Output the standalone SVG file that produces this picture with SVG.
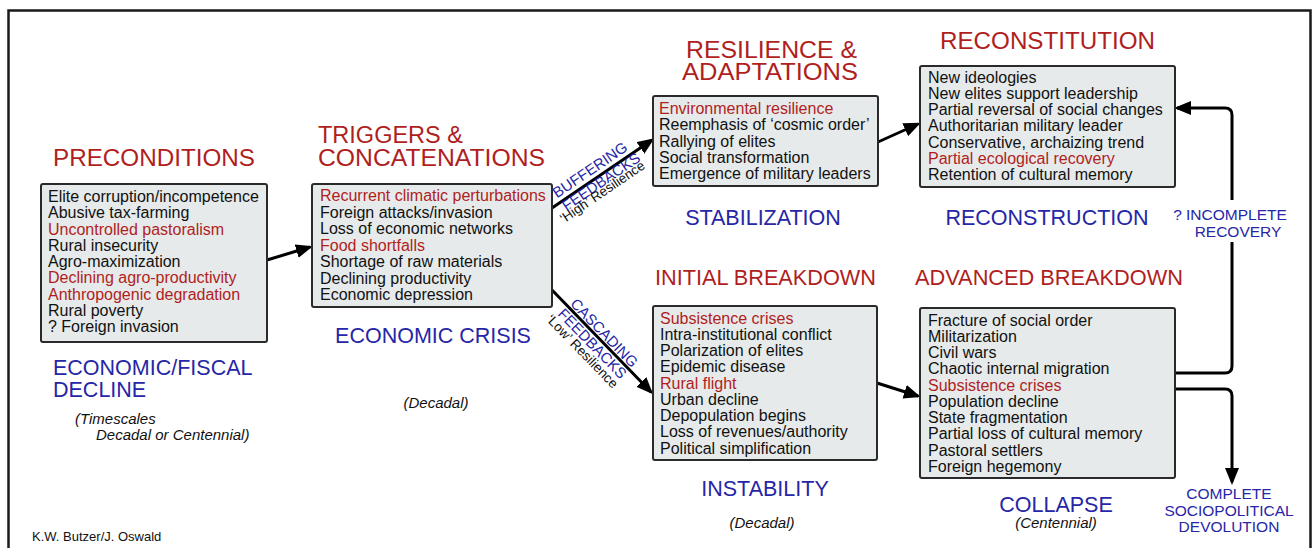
<svg xmlns="http://www.w3.org/2000/svg" width="1314" height="548" viewBox="0 0 1314 548">
<defs>
<marker id="ah" markerUnits="userSpaceOnUse" markerWidth="18" markerHeight="16" refX="14" refY="7" orient="auto">
<path d="M0,0 L17,7 L0,14 z" fill="#000"/>
</marker>
<style>
.box{fill:#e6eaea;stroke:#2a2a2a;stroke-width:2}
.bt{font-family:"Liberation Sans",Arial,sans-serif;font-size:16px;fill:#111}
.r{fill:#b01e1e}
.hd{font-family:"Liberation Sans",Arial,sans-serif;font-size:23.5px;fill:#b01e1e}
.hs{font-family:"Liberation Sans",Arial,sans-serif;font-size:21.5px;fill:#b01e1e}
.bl{font-family:"Liberation Sans",Arial,sans-serif;font-size:21.5px;fill:#2626a6}
.it{font-family:"Liberation Sans",Arial,sans-serif;font-size:15px;font-style:italic;fill:#111}
.sb{font-family:"Liberation Sans",Arial,sans-serif;font-size:15.5px;fill:#2626a6}
.rot{font-family:"Liberation Sans",Arial,sans-serif;font-size:15px;fill:#2626a6}
.rs{font-family:"Liberation Sans",Arial,sans-serif;font-size:13.5px;fill:#111}
.cn{fill:none;stroke:#000;stroke-width:3}
</style>
</defs>
<rect width="1314" height="548" fill="#fff"/>
<path d="M8.5,548 V10.5 H1310.5 V548" fill="none" stroke="#1a1a1a" stroke-width="2.5"/>

<g id="connectors">
<line class="cn" x1="267" y1="260" x2="310" y2="247" marker-end="url(#ah)"/>
<line class="cn" x1="552" y1="208" x2="652" y2="140" marker-end="url(#ah)"/>
<line class="cn" x1="552" y1="290" x2="651" y2="392" marker-end="url(#ah)"/>
<line class="cn" x1="878" y1="142" x2="918" y2="124" marker-end="url(#ah)"/>
<line class="cn" x1="877" y1="383" x2="918" y2="396" marker-end="url(#ah)"/>
<path class="cn" d="M1175,373 H1225 Q1232,373 1232,366 V242 M1232,200 V115 Q1232,108 1225,108 H1177" marker-end="url(#ah)"/>
<path class="cn" d="M1175,389 H1225 Q1232,389 1232,396 V482" marker-end="url(#ah)"/>
</g>

<g id="preconditions">
<text class="hd" x="53" y="165.5" textLength="202" lengthAdjust="spacingAndGlyphs">PRECONDITIONS</text>
<rect class="box" x="41" y="184" width="226" height="158" rx="2"/>
<text class="bt" x="48" y="202">Elite corruption/incompetence</text>
<text class="bt" x="48" y="218.25">Abusive tax-farming</text>
<text class="bt r" x="48" y="234.5">Uncontrolled pastoralism</text>
<text class="bt" x="48" y="250.75">Rural insecurity</text>
<text class="bt" x="48" y="267">Agro-maximization</text>
<text class="bt r" x="48" y="283.25">Declining agro-productivity</text>
<text class="bt r" x="48" y="299.5">Anthropogenic degradation</text>
<text class="bt" x="48" y="315.75">Rural poverty</text>
<text class="bt" x="48" y="332">? Foreign invasion</text>
<text class="bl" x="53" y="374.5">ECONOMIC/FISCAL</text>
<text class="bl" x="53" y="396.5">DECLINE</text>
<text class="it" x="75" y="424">(Timescales</text>
<text class="it" x="96" y="440">Decadal or Centennial)</text>
</g>

<g id="triggers">
<text class="hd" x="318" y="142.5">TRIGGERS &amp;</text>
<text class="hd" x="318" y="165.5" textLength="227" lengthAdjust="spacingAndGlyphs">CONCATENATIONS</text>
<rect class="box" x="312" y="184" width="240" height="123" rx="2"/>
<text class="bt r" x="320" y="201">Recurrent climatic perturbations</text>
<text class="bt" x="320" y="217.5">Foreign attacks/invasion</text>
<text class="bt" x="320" y="234">Loss of economic networks</text>
<text class="bt r" x="320" y="250.5">Food shortfalls</text>
<text class="bt" x="320" y="267">Shortage of raw materials</text>
<text class="bt" x="320" y="283.5">Declining productivity</text>
<text class="bt" x="320" y="300">Economic depression</text>
<text class="bl" x="433" y="342.5" text-anchor="middle">ECONOMIC CRISIS</text>
<text class="it" x="436" y="408" text-anchor="middle">(Decadal)</text>
</g>

<g id="resilience">
<text class="hd" x="686" y="57.5" textLength="171" lengthAdjust="spacingAndGlyphs">RESILIENCE &amp;</text>
<text class="hd" x="682" y="79.5" textLength="176" lengthAdjust="spacingAndGlyphs">ADAPTATIONS</text>
<rect class="box" x="653" y="96" width="225" height="90" rx="2"/>
<text class="bt r" x="659" y="114">Environmental resilience</text>
<text class="bt" x="659" y="130.25">Reemphasis of ‘cosmic order’</text>
<text class="bt" x="659" y="146.5">Rallying of elites</text>
<text class="bt" x="659" y="162.75">Social transformation</text>
<text class="bt" x="659" y="179">Emergence of military leaders</text>
<text class="bl" x="763" y="224.5" text-anchor="middle">STABILIZATION</text>
</g>

<g id="reconstitution">
<text class="hd" x="940" y="48.5" textLength="215" lengthAdjust="spacingAndGlyphs">RECONSTITUTION</text>
<rect class="box" x="920" y="66" width="255" height="121" rx="2"/>
<text class="bt" x="928" y="82.5">New ideologies</text>
<text class="bt" x="928" y="98.75">New elites support leadership</text>
<text class="bt" x="928" y="115">Partial reversal of social changes</text>
<text class="bt" x="928" y="131.25">Authoritarian military leader</text>
<text class="bt" x="928" y="147.5">Conservative, archaizing trend</text>
<text class="bt r" x="928" y="163.75">Partial ecological recovery</text>
<text class="bt" x="928" y="180">Retention of cultural memory</text>
<text class="bl" x="1047" y="224.5" text-anchor="middle">RECONSTRUCTION</text>
</g>

<g id="initial-breakdown">
<text class="hs" x="655" y="285" textLength="221" lengthAdjust="spacingAndGlyphs">INITIAL BREAKDOWN</text>
<rect class="box" x="653" y="306" width="224" height="154" rx="2"/>
<text class="bt r" x="660" y="323.5">Subsistence crises</text>
<text class="bt" x="660" y="339.75">Intra-institutional conflict</text>
<text class="bt" x="660" y="356">Polarization of elites</text>
<text class="bt" x="660" y="372.25">Epidemic disease</text>
<text class="bt r" x="660" y="388.5">Rural flight</text>
<text class="bt" x="660" y="404.75">Urban decline</text>
<text class="bt" x="660" y="421">Depopulation begins</text>
<text class="bt" x="660" y="437.25">Loss of revenues/authority</text>
<text class="bt" x="660" y="453.5">Political simplification</text>
<text class="bl" x="765" y="495.5" text-anchor="middle">INSTABILITY</text>
<text class="it" x="762" y="528" text-anchor="middle">(Decadal)</text>
</g>

<g id="advanced-breakdown">
<text class="hs" x="915" y="285" textLength="268" lengthAdjust="spacingAndGlyphs">ADVANCED BREAKDOWN</text>
<rect class="box" x="920" y="308" width="255" height="170" rx="2"/>
<text class="bt" x="928" y="325.5">Fracture of social order</text>
<text class="bt" x="928" y="341.75">Militarization</text>
<text class="bt" x="928" y="358">Civil wars</text>
<text class="bt" x="928" y="374.25">Chaotic internal migration</text>
<text class="bt r" x="928" y="390.5">Subsistence crises</text>
<text class="bt" x="928" y="406.75">Population decline</text>
<text class="bt" x="928" y="423">State fragmentation</text>
<text class="bt" x="928" y="439.25">Partial loss of cultural memory</text>
<text class="bt" x="928" y="455.5">Pastoral settlers</text>
<text class="bt" x="928" y="471.75">Foreign hegemony</text>
<text class="bl" x="1056" y="511.5" text-anchor="middle">COLLAPSE</text>
<text class="it" x="1056" y="528" text-anchor="middle">(Centennial)</text>
</g>

<g id="incomplete-recovery">
<text class="sb" x="1230" y="219.5" text-anchor="middle">? INCOMPLETE</text>
<text class="sb" x="1238" y="236.5" text-anchor="middle">RECOVERY</text>
</g>

<g id="complete-devolution">
<text class="sb" x="1229" y="499" text-anchor="middle" font-size="16">COMPLETE</text>
<text class="sb" x="1229" y="515.5" text-anchor="middle" font-size="16">SOCIOPOLITICAL</text>
<text class="sb" x="1229" y="532" text-anchor="middle" font-size="16">DEVOLUTION</text>
</g>

<g id="buffering-label" transform="translate(552,208) rotate(-34.2)">
<text class="rot" x="9.5" y="-5">BUFFERING</text>
<text class="rot" x="10" y="11">FEEDBACKS</text>
<text class="rs" x="1" y="19.5">‘High’ Resilience</text>
</g>

<g id="cascading-label" transform="translate(552,290) rotate(45.9)">
<text class="rot" x="22.5" y="-2.5">CASCADING</text>
<text class="rot" x="21" y="13.5">FEEDBACKS</text>
<text class="rs" x="17" y="25.5">‘Low’ Resilience</text>
</g>

<text x="32" y="540.5" font-family="Liberation Sans, Arial, sans-serif" font-size="13" fill="#111">K.W. Butzer/J. Oswald</text>
</svg>
